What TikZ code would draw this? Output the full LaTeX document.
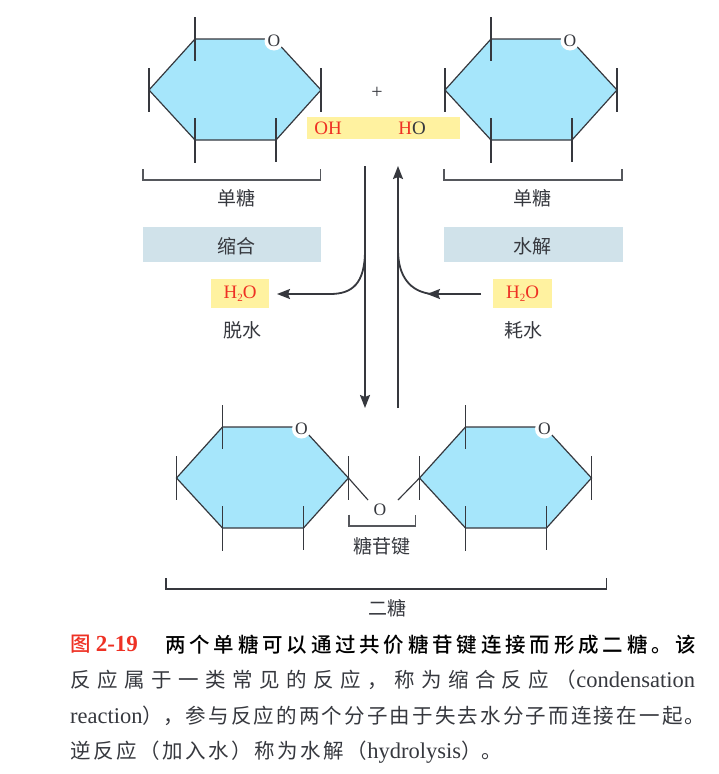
\documentclass[tikz,border=0pt]{standalone}
\usepackage{fontspec}
\usepackage{xcolor}
\usetikzlibrary{arrows.meta}
\setmainfont{Liberation Serif}
\newfontfamily\cjk{Noto Sans CJK SC}
\newfontfamily\cjkm{Noto Sans CJK SC Medium}
\definecolor{sugar}{HTML}{A6E6FB}
\definecolor{ink}{HTML}{36383E}
\definecolor{soft}{HTML}{55575C}
\definecolor{hl}{HTML}{FFF2A0}
\definecolor{band}{HTML}{D0E2EA}
\definecolor{redt}{HTML}{EE3124}
\newcommand{\fs}[1]{\fontsize{#1}{#1}\selectfont}
\newcommand{\spreadline}[2]{\makebox[#1pt][s]{\spaceskip=0.001pt plus 1fil #2}}
\tikzset{
  ring/.style={fill=sugar,draw=ink,line width=1.2pt,line join=miter},
  tick/.style={draw=ink,line width=1.15pt},
  oring/.style={circle,fill=white,inner sep=0pt,minimum size=19pt,text=ink,font=\fs{17.5}},
  brace/.style={draw=soft,line width=1.15pt},
  bigbrace/.style={draw=ink,line width=1.1pt},
  lab/.style={text=ink,font=\cjk\fs{19},inner sep=0pt},
  hlbox/.style={fill=hl,inner sep=0pt,font=\fs{19}},
  bandbox/.style={fill=band,inner sep=0pt,minimum width=178.5pt,minimum height=35pt},
  rxn/.style={draw=ink,line width=1.8pt},
  tipped/.style={-{Stealth[length=13pt,width=10pt,inset=2pt]}},
  capt/.style={anchor=west,inner sep=0pt,text=ink,font=\fs{20.5}},
  latin/.style={},
}
\newcommand{\sugarring}[3]{%
  \coordinate (#1l) at (#2,#3);
  \coordinate (#1a) at (#2+46,#3-51);
  \coordinate (#1e) at (#2+125,#3-51);
  \coordinate (#1o) at (#2+125,#3-49);
  \coordinate (#1r) at (#2+172,#3);
  \coordinate (#1b) at (#2+127,#3+50);
  \coordinate (#1c) at (#2+46,#3+50);
  \path[ring] (#1l) -- (#1a) -- (#1e) -- (#1r) -- (#1b) -- (#1c) -- cycle;
  \node[oring] (#1O) at (#1o) {O};
  \draw[tick] (#2,#3-22) -- (#2,#3+22);
  \draw[tick] (#2+172,#3-22) -- (#2+172,#3+22);
  \draw[tick] (#2+46,#3-73) -- (#2+46,#3-29);
  \draw[tick] (#2+46,#3+28) -- (#2+46,#3+73);
  \draw[tick] (#2+127,#3+28) -- (#2+127,#3+72);
}
\begin{document}
\begin{tikzpicture}[x=1pt,y=-1pt]
\useasboundingbox (0,0) rectangle (718,774);
\sugarring{A}{149}{90}
\sugarring{B}{445}{90}
\sugarring{C}{176.5}{478}
\sugarring{D}{419.5}{478}
% plus and OH strip
\node[text=ink,font=\fs{20},inner sep=0pt] (plus) at (377,93) {+};
\node[hlbox,minimum width=153pt,minimum height=22.5pt] (strip) at (383.5,127.8) {};
\node[inner sep=0pt,font=\fs{19},text=redt] (oh) at (328,128) {OH};
\node[inner sep=0pt,font=\fs{19},text=ink] (ho) at (412,128) {\textcolor{redt}{H}O};
% brackets
\draw[brace] (143,169) -- (143,180) -- (320.5,180) -- (320.5,169);
\draw[brace] (444,169) -- (444,180) -- (622,180) -- (622,169);
\node[lab] (mono1) at (236,198) {单糖};
\node[lab] (mono2) at (532,198) {单糖};
% process bands
\node[bandbox] (cond) at (232.2,244.5) {};
\node[bandbox] (hydr) at (533.5,244.5) {};
\node[lab] (condt) at (236,246) {缩合};
\node[lab] (hydrt) at (532,246) {水解};
\node[hlbox,minimum width=58pt,minimum height=29pt,text=redt] (wl) at (240,293.5) {H\raisebox{-0.35ex}{\fs{11}2}O};
\node[hlbox,minimum width=59pt,minimum height=29pt,text=redt] (wr) at (522.5,293.5) {H\raisebox{-0.35ex}{\fs{11}2}O};
\node[lab] (lossl) at (242,330) {脱水};
\node[lab] (lossr) at (523,330) {耗水};
% reaction arrows
\coordinate (ds) at (365,166);
\coordinate (de) at (365,408);
\coordinate (us) at (398,408);
\coordinate (ue) at (398,166);
\coordinate (lc) at (365,250);
\coordinate (lt) at (277,294);
\coordinate (rc) at (398,250);
\coordinate (rs) at (481,294);
\coordinate (rm) at (427,294);
\draw[rxn,tipped] (ds) -- (de);
\draw[rxn,tipped] (us) -- (ue);
\draw[rxn,tipped] (lc) .. controls (365,284) and (352,294) .. (330,294) -- (lt);
\draw[rxn] (rc) .. controls (398,276) and (410,292) .. (432,294);
\draw[rxn,tipped] (rs) -- (rm);
% glycosidic bond
\coordinate (bl) at (368,500);
\coordinate (br) at (398,500);
\draw[tick] (Cr) -- (bl);
\draw[tick] (Dl) -- (br);
\node[inner sep=0pt,font=\fs{17.5},text=ink] (glyO) at (380,510) {O};
\draw[brace] (349,514.5) -- (349,526) -- (415.5,526) -- (415.5,514.5);
\node[lab] (glyc) at (382,546) {糖苷键};
\draw[bigbrace] (166,578) -- (166,589) -- (606.5,589) -- (606.5,578);
\node[lab] (disac) at (387,608) {二糖};
% caption
\node[capt,text=redt] (figno) at (70,644.5) {{\cjkm\fs{20.5}图} \textbf{\fs{23}2-19}};
\node[capt,text=black] (c1) at (165,644.5) {\spreadline{531}{\cjkm 两 个 单 糖 可 以 通 过 共 价 糖 苷 键 连 接 而 形 成 二 糖 。 该}};
\node[capt] (c2) at (70,680) {\spreadline{625}{\cjk 反 应 属 于 一 类 常 见 的 反 应 ， 称 为 缩 合 反 应 （\rmfamily\fs{22.5}condensation}};
\node[capt] (c3) at (70,716) {\spreadline{635}{{\fs{22.5}reaction}\cjk ）， 参 与 反 应 的 两 个 分 子 由 于 失 去 水 分 子 而 连 接 在 一 起 。}};
\node[capt] (c4) at (70,752) {\spreadline{432}{\cjk 逆 反 应 （ 加 入 水 ） 称 为 水 解 （{\rmfamily\fs{22.5}hydrolysis}\cjk ）。}};
\end{tikzpicture}
\end{document}
